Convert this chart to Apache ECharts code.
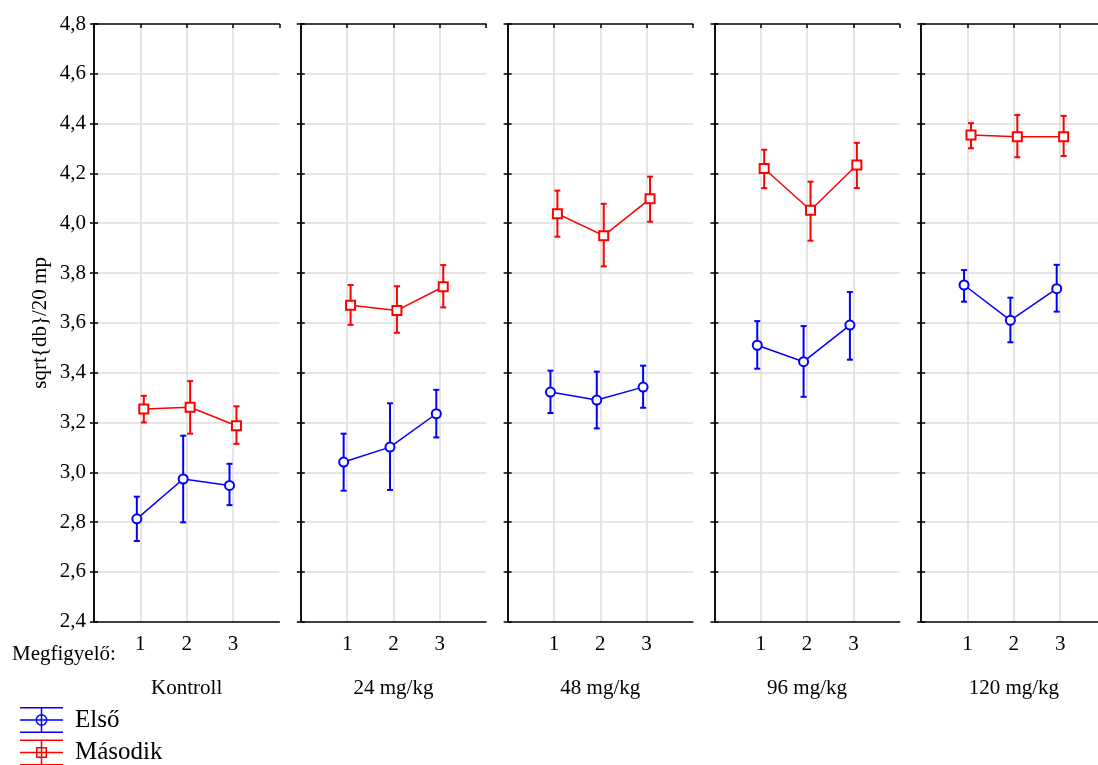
<!DOCTYPE html>
<html>
<head>
<meta charset="utf-8">
<script src="https://cdn.jsdelivr.net/npm/echarts@6/dist/echarts.min.js"></script>
<style>
html,body{margin:0;padding:0;background:#fff;}
#chart{width:1098px;height:765px;}
</style>
</head>
<body>
<div id="chart"></div>
<script>
// ---- data ----
const panels = ['Kontroll', '24 mg/kg', '48 mg/kg', '96 mg/kg', '120 mg/kg'];
const observers = [1, 2, 3];
const xLabelTitle = 'Megfigyelő:';
const yAxisTitle = 'sqrt{db}/20 mp';
const yMin = 2.4, yMax = 4.8, yStep = 0.2;

const elsoMean = [
  [2.813, 2.973, 2.947],
  [3.041, 3.101, 3.235],
  [3.322, 3.290, 3.342],
  [3.510, 3.444, 3.591],
  [3.752, 3.610, 3.737]
];
const elsoLow = [
  [2.724, 2.799, 2.868],
  [2.926, 2.929, 3.140],
  [3.238, 3.176, 3.259],
  [3.416, 3.303, 3.452],
  [3.685, 3.522, 3.645]
];
const elsoHigh = [
  [2.902, 3.147, 3.034],
  [3.155, 3.277, 3.331],
  [3.408, 3.404, 3.428],
  [3.607, 3.587, 3.724],
  [3.812, 3.701, 3.833]
];
const masodikMean = [
  [3.254, 3.261, 3.187],
  [3.671, 3.650, 3.745],
  [4.038, 3.950, 4.098],
  [4.220, 4.052, 4.234],
  [4.354, 4.347, 4.347]
];
const masodikLow = [
  [3.200, 3.155, 3.114],
  [3.592, 3.560, 3.662],
  [3.946, 3.827, 4.006],
  [4.141, 3.930, 4.141],
  [4.301, 4.265, 4.270]
];
const masodikHigh = [
  [3.307, 3.366, 3.265],
  [3.752, 3.747, 3.832],
  [4.131, 4.078, 4.187],
  [4.295, 4.167, 4.323],
  [4.402, 4.435, 4.431]
];
const seriesNames = ['Első', 'Második'];

// ---- styling / layout ----
const FONT = '"Liberation Serif", "Times New Roman", serif';
const BLUE = '#0000ff', RED = '#ff0000';
const OFF = 0.075;
const gridLeft0 = 94, gridStep = 206.8, gridW = 185.3, gridTop = 24, gridH = 597.7;

const chart = echarts.init(document.getElementById('chart'), null, {renderer: 'canvas'});

const grids = [], xAxes = [], yAxes = [], series = [];

function errRender(color) {
  return function (params, api) {
    const x = api.value(0), lo = api.value(1), hi = api.value(2);
    const a = api.coord([x, lo]), b = api.coord([x, hi]);
    const cw = 3;
    const st = {stroke: color, lineWidth: 2};
    return {
      type: 'group',
      children: [
        {type: 'line', shape: {x1: a[0], y1: a[1], x2: b[0], y2: b[1]}, style: st},
        {type: 'line', shape: {x1: a[0] - cw, y1: a[1], x2: a[0] + cw, y2: a[1]}, style: st},
        {type: 'line', shape: {x1: b[0] - cw, y1: b[1], x2: b[0] + cw, y2: b[1]}, style: st}
      ]
    };
  };
}

panels.forEach((p, i) => {
  grids.push({
    left: gridLeft0 + i * gridStep, top: gridTop, width: gridW, height: gridH,
    outerBoundsMode: 'none', containLabel: false
  });
  const axLine = {show: true, lineStyle: {color: '#000', width: 1.5}};
  // bottom x axis
  xAxes.push({
    type: 'value', gridIndex: i, position: 'bottom', min: 0, max: 4, interval: 1,
    axisLine: axLine, axisTick: {show: false},
    axisLabel: {
      margin: 12, color: '#000', fontFamily: FONT, fontSize: 21,
      formatter: v => observers.indexOf(v) >= 0 ? String(v) : ''
    },
    splitLine: {show: true, showMinLine: false, showMaxLine: false, lineStyle: {color: '#dcdcdc', width: 1.5}},
    name: p, nameLocation: 'middle', nameGap: 56,
    nameTextStyle: {color: '#000', fontFamily: FONT, fontSize: 21}
  });
  // top x axis (frame + ticks)
  xAxes.push({
    type: 'value', gridIndex: i, position: 'top', min: 0, max: 4, interval: 1,
    axisLine: axLine, axisTick: {show: true, inside: true, length: 4, lineStyle: {color: '#000', width: 1.5}},
    axisLabel: {show: false}, splitLine: {show: false}
  });
  // left y axis
  yAxes.push({
    type: 'value', gridIndex: i, position: 'left', min: yMin, max: yMax, interval: yStep,
    axisLine: axLine,
    axisTick: {show: true, inside: true, length: 4, lineStyle: {color: '#000', width: 1.5}},
    axisLabel: {
      show: i === 0, margin: 8, color: '#000', fontFamily: FONT, fontSize: 21,
      formatter: v => v.toFixed(1).replace('.', ',')
    },
    splitLine: {show: true, showMinLine: false, showMaxLine: false, lineStyle: {color: '#dcdcdc', width: 1.5}},
    name: i === 0 ? yAxisTitle : '', nameLocation: 'middle', nameGap: 43,
    nameTextStyle: {color: '#000', fontFamily: FONT, fontSize: 21}
  });
  // right y axis
  yAxes.push({
    type: 'value', gridIndex: i, position: 'right', min: yMin, max: yMax, interval: yStep,
    axisLine: axLine,
    axisTick: {show: true, inside: true, length: 4, lineStyle: {color: '#000', width: 1.5}},
    axisLabel: {show: false}, splitLine: {show: false}
  });

  const groups = [
    {name: seriesNames[0], color: BLUE, sym: 'emptyCircle', off: -OFF, mean: elsoMean[i], lo: elsoLow[i], hi: elsoHigh[i]},
    {name: seriesNames[1], color: RED, sym: 'emptyRect', off: OFF, mean: masodikMean[i], lo: masodikLow[i], hi: masodikHigh[i]}
  ];
  groups.forEach(g => {
    series.push({
      type: 'custom', name: g.name, xAxisIndex: 2 * i, yAxisIndex: 2 * i,
      renderItem: errRender(g.color), encode: {x: 0, y: [1, 2]},
      data: observers.map((o, j) => [o + g.off, g.lo[j], g.hi[j]]),
      z: 2, silent: true, animation: false
    });
    series.push({
      type: 'line', name: g.name, xAxisIndex: 2 * i, yAxisIndex: 2 * i,
      data: observers.map((o, j) => [o + g.off, g.mean[j]]),
      symbol: g.sym, symbolSize: 9, showAllSymbol: true,
      itemStyle: {color: g.color, borderColor: g.color, borderWidth: 1.5},
      lineStyle: {color: g.color, width: 1.5},
      z: 3, animation: false
    });
  });
});

const circleIcon = 'path://M0 0H43V1.5H0Z M0 12.25H43V13.75H0Z M0 24.5H43V26H0Z M20.75 0H22.25V26H20.75Z M15.5 13A6 6 0 1 1 27.5 13A6 6 0 1 1 15.5 13Z M17 13A4.5 4.5 0 1 0 26 13A4.5 4.5 0 1 0 17 13Z';
const squareIcon = 'path://M0 0H43V1.5H0Z M0 12.25H43V13.75H0Z M0 24.5H43V26H0Z M20.75 0H22.25V26H20.75Z M16 7.5H27V18.5H16Z M17.5 9V17H25.5V9Z';

const legendBase = {
  orient: 'vertical', left: 20, itemWidth: 43, itemHeight: 26, padding: 0,
  selectedMode: false,
  textStyle: {color: '#000', fontFamily: FONT, fontSize: 25, padding: [0, 0, 0, 7]}
};

chart.setOption({
  backgroundColor: '#fff',
  animation: false,
  grid: grids,
  xAxis: xAxes,
  yAxis: yAxes,
  series: series,
  legend: [
    Object.assign({}, legendBase, {top: 707,
      data: [{name: seriesNames[0], icon: circleIcon, itemStyle: {color: BLUE, borderWidth: 0}}]}),
    Object.assign({}, legendBase, {top: 739.5,
      data: [{name: seriesNames[1], icon: squareIcon, itemStyle: {color: RED, borderWidth: 0}}]})
  ],
  graphic: [{
    type: 'text', left: 12, top: 644,
    style: {text: xLabelTitle, font: '21px ' + FONT, fill: '#000'}
  }]
});
</script>
</body>
</html>
